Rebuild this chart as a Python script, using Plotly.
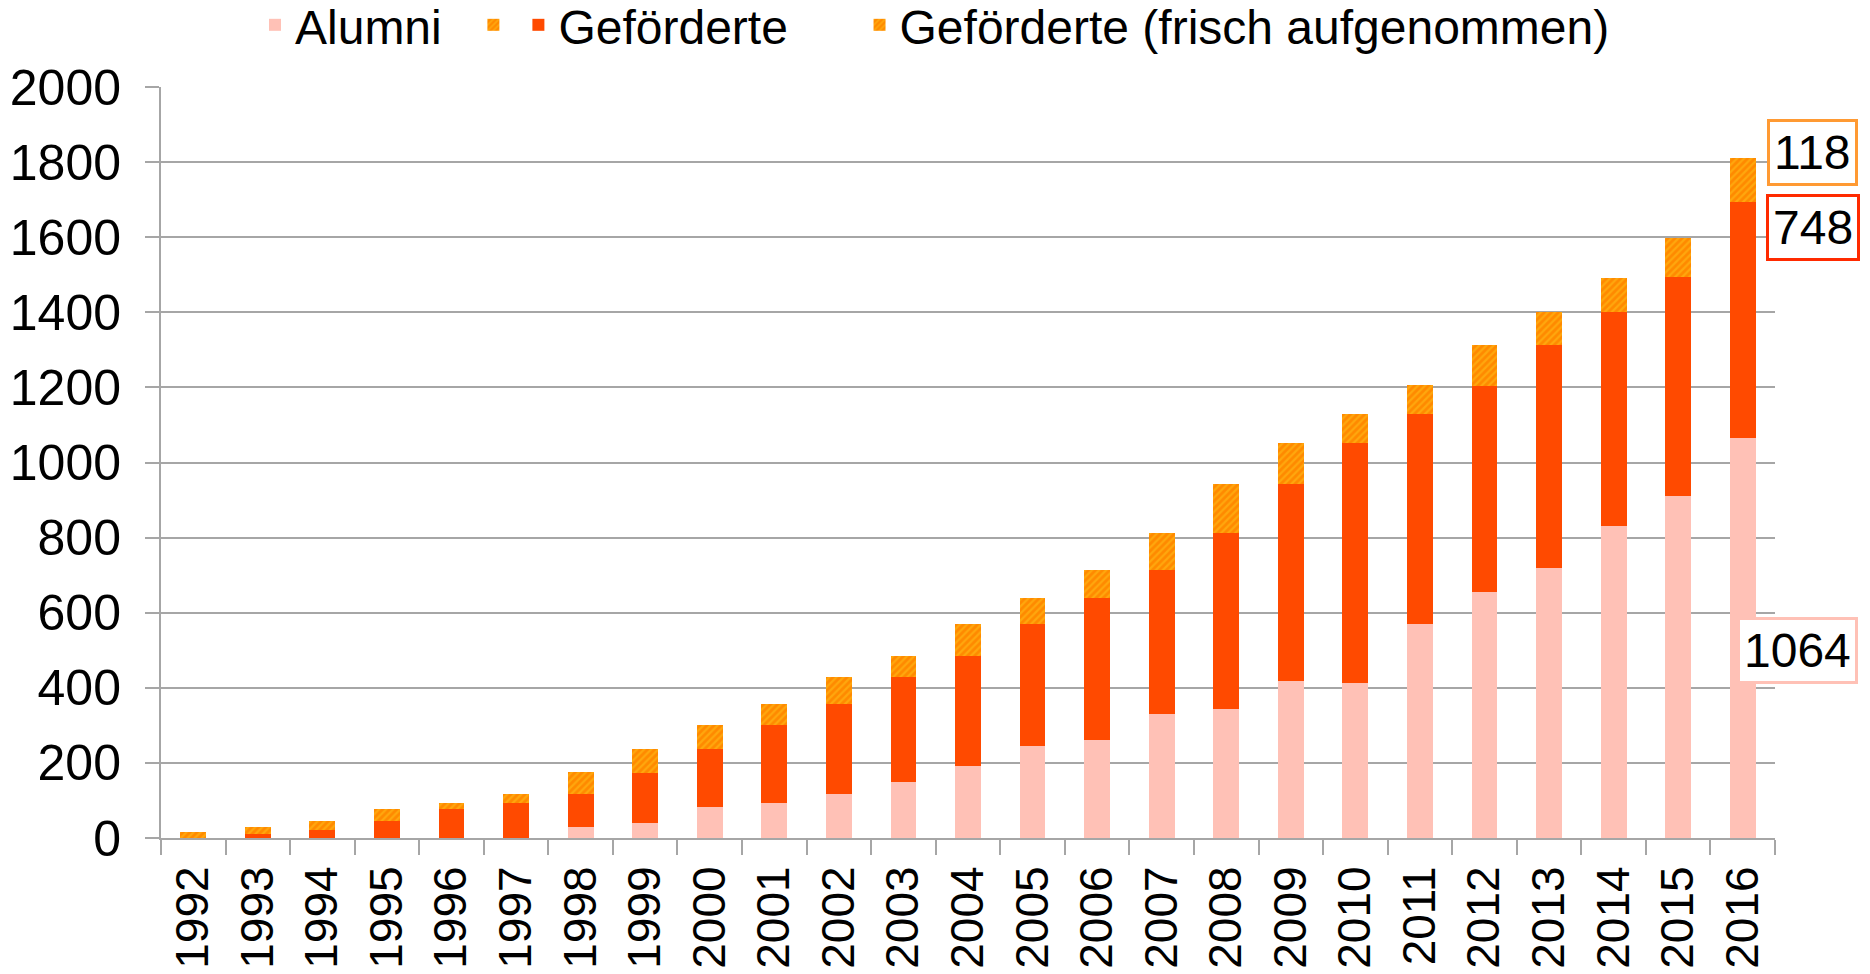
import plotly.graph_objects as go

YEARS = [str(y) for y in range(1992, 2017)]

# Alumni (pink), Geförderte gesamt (incl. frisch aufgenommen), davon frisch aufgenommen
ALUMNI = [0, 0, 0, 0, 0, 0, 28, 40, 82, 92, 116, 150, 192, 244, 260,
          329, 343, 418, 414, 571, 654, 719, 832, 911, 1064]
GEFOERDERTE = [15, 28, 45, 76, 93, 117, 148, 197, 220, 265, 314, 336, 379, 395, 455,
               483, 599, 634, 714, 636, 660, 682, 659, 686, 748]
FRISCH = [15, 17, 23, 31, 17, 24, 59, 63, 65, 55, 73, 56, 85, 68, 76,
          97, 130, 110, 76, 79, 109, 87, 90, 103, 118]

PINK = "#FFC1B6"
RED = "#FF4A00"
ORANGE = "#FF8A00"
YELLOW = "#FFC31A"
AXIS = "#A6A6A6"
FONT = "Liberation Sans, Arial, sans-serif"
NB = "\u00a0"

bisher = [g - f for g, f in zip(GEFOERDERTE, FRISCH)]

hatch = dict(shape="/", fgcolor=YELLOW, bgcolor=ORANGE, size=5, solidity=0.45)

fig = go.Figure()

fig.add_trace(go.Bar(x=YEARS, y=ALUMNI, name="Alumni" + NB * 2,
                     marker=dict(color=PINK, line_width=0)))
# legend-only hatched swatch shown in front of "Geförderte"
fig.add_trace(go.Bar(x=[YEARS[0]], y=[None], name="",
                     marker=dict(color=ORANGE, pattern=hatch, line_width=0)))
fig.add_trace(go.Bar(x=YEARS, y=bisher, name="Geförderte" + NB * 5,
                     marker=dict(color=RED, line_width=0)))
fig.add_trace(go.Bar(x=YEARS, y=FRISCH, name="Geförderte (frisch aufgenommen)",
                     marker=dict(color=ORANGE, pattern=hatch, line_width=0)))

# category axis: annotations use the category index
last = len(YEARS) - 1
top = ALUMNI[-1] + GEFOERDERTE[-1]
labels = [
    (str(FRISCH[-1]), top, "middle", 5, 70, "#FF9A33"),
    (str(GEFOERDERTE[-1]), top - FRISCH[-1], "top", 8, 70, "#FF2A00"),
    (str(ALUMNI[-1]), ALUMNI[-1] / 2, "middle", -12, 55, "#FFC1B6"),
]
for text, yv, yanchor, ys, xs, col in labels:
    fig.add_annotation(
        x=last, y=yv, xref="x", yref="y", text=text, showarrow=False,
        yanchor=yanchor, yshift=ys, xshift=xs,
        font=dict(size=48, color="black", family=FONT),
        bgcolor="white", bordercolor=col, borderwidth=3, borderpad=4,
    )

fig.update_layout(
    barmode="stack",
    bargap=0.6,
    width=1870,
    height=974,
    paper_bgcolor="white",
    plot_bgcolor="white",
    font=dict(family=FONT, size=48, color="black"),
    margin=dict(l=161, r=95, t=87, b=136, autoexpand=False),
    showlegend=True,
    legend=dict(
        orientation="h", xref="container", yref="paper",
        x=0.5, xanchor="center", y=1.133, yanchor="top",
        font=dict(size=48), traceorder="normal",
        itemwidth=30, bgcolor="rgba(0,0,0,0)",
    ),
    xaxis=dict(
        type="category", range=[-0.5, len(YEARS) - 0.5],
        tickangle=-90, tickson="boundaries",
        ticks="outside", ticklen=15, tickcolor=AXIS, tickwidth=2,
        ticklabelstandoff=8,
        showline=True, linecolor=AXIS, linewidth=2,
        showgrid=False, tickfont=dict(size=46),
    ),
    yaxis=dict(
        range=[0, 2000], dtick=200, ticks="outside", ticklen=14,
        tickcolor=AXIS, tickwidth=2, showline=True, linecolor=AXIS, linewidth=2,
        ticklabelstandoff=14,
        showgrid=True, gridcolor=AXIS, gridwidth=2, zeroline=False,
        tickfont=dict(size=50),
    ),
)

fig.write_html("out.html", config={"displayModeBar": False},
               post_script="document.body.style.margin='0';")
